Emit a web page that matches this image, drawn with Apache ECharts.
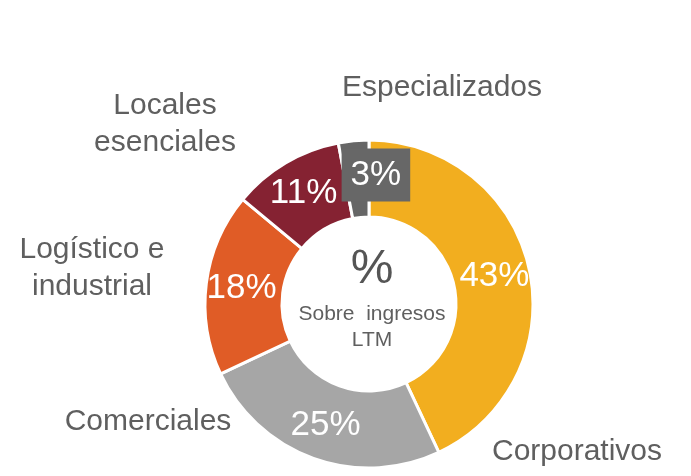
<!DOCTYPE html>
<html>
<head>
<meta charset="utf-8">
<script src="https://cdn.jsdelivr.net/npm/echarts@6/dist/echarts.min.js"></script>
<style>
html, body { margin: 0; padding: 0; background: #fff; }
#Cartera { width: 691px; height: 476px; }
</style>
</head>
<body>
<div id="Cartera"></div>
<script>
// datos
var categorias = ['Corporativos', 'Comerciales', 'Logístico e\nindustrial', 'Locales\nesenciales', 'Especializados'];
var valores = [43, 25, 18, 11, 3];
var colores = ['#F2AE1F', '#A6A6A6', '#E05C26', '#852232', '#666666'];

var font = 'Liberation Sans, Arial, sans-serif';
var gris = '#5F5F5F';
// posicion de las etiquetas externas (centro del texto)
var etiquetaPos = [[577, 452], [148, 422], [92, 268], [165, 124], [442, 88]];

var myChart = echarts.init(document.getElementById('Cartera'));

var datos = valores.map(function (v, i) {
    var d = { name: categorias[i], value: v, itemStyle: { color: colores[i] } };
    if (i === 4) {
        d.label = {
            backgroundColor: '#676767',
            padding: [10, 9, 8, 9],
            offset: [19, -1]
        };
    }
    return d;
});

var textos = categorias.map(function (c, i) {
    return {
        type: 'text',
        x: etiquetaPos[i][0],
        y: etiquetaPos[i][1],
        style: {
            text: c,
            fill: gris,
            font: '30px ' + font,
            align: 'center',
            verticalAlign: 'middle',
            lineHeight: 37
        }
    };
});

textos.push({
    type: 'text', x: 372, y: 270,
    style: { text: '%', fill: '#555555', font: '48px ' + font, align: 'center', verticalAlign: 'middle' }
});
textos.push({
    type: 'text', x: 372, y: 327,
    style: { text: 'Sobre  ingresos\nLTM', fill: gris, font: '21px ' + font, align: 'center', verticalAlign: 'middle', lineHeight: 26 }
});

var option = {
    animation: false,
    series: [{
        type: 'pie',
        center: [369, 304],
        radius: [87, 164],
        startAngle: 90,
        clockwise: true,
        silent: true,
        itemStyle: { borderColor: '#fff', borderWidth: 3 },
        label: {
            show: true,
            position: 'inside',
            formatter: '{c}%',
            color: '#fff',
            fontSize: 35,
            fontFamily: font
        },
        labelLine: { show: false },
        data: datos
    }],
    graphic: textos
};

myChart.setOption(option, true);
window.addEventListener('resize', function () { myChart.resize(); });
</script>
</body>
</html>
